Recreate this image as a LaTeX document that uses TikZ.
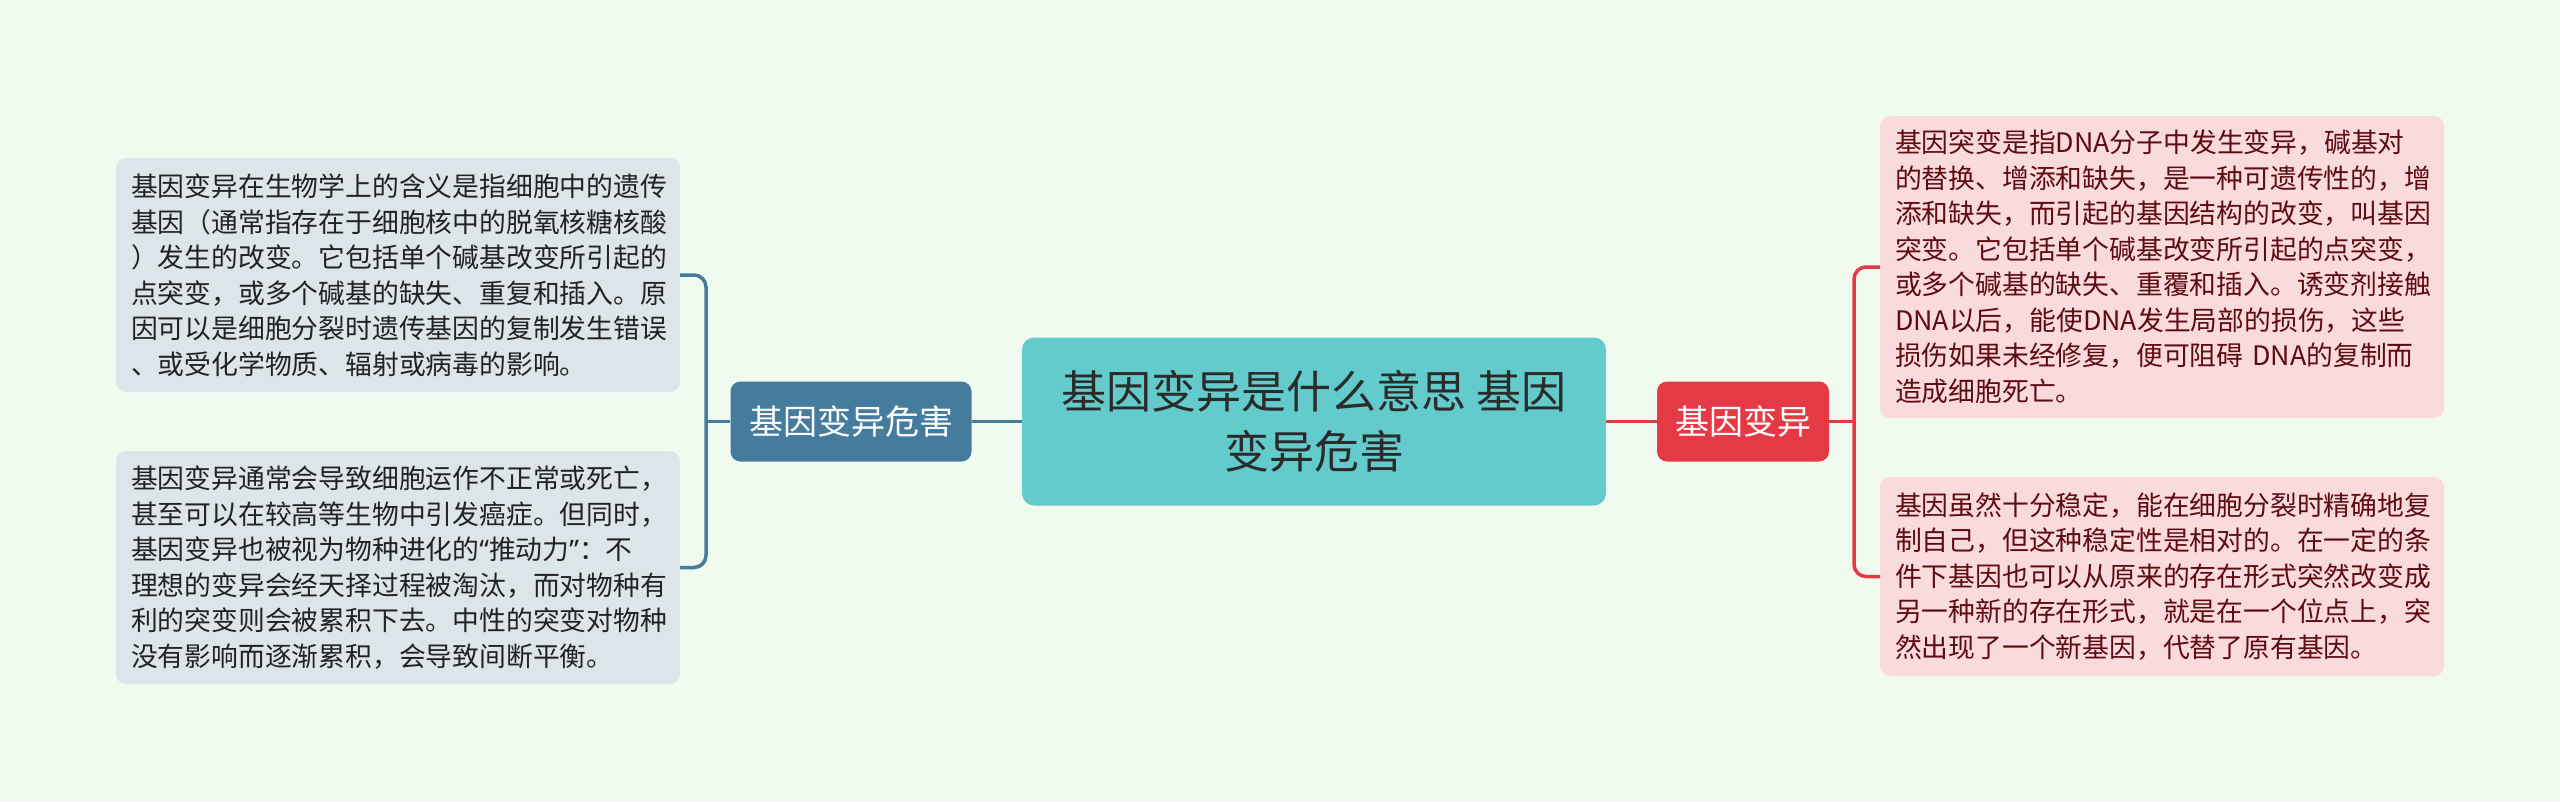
\documentclass[tikz,border=0pt]{standalone}
\usepackage{fontspec}
\setmainfont{Noto Sans CJK SC}
\newfontfamily\latinquote{Noto Sans}
\definecolor{bg}{HTML}{F1FAEE}
\definecolor{centerfill}{HTML}{63CBCB}
\definecolor{titletext}{HTML}{2B2B2B}
\definecolor{bluebranch}{HTML}{457B9D}
\definecolor{redbranch}{HTML}{E63946}
\definecolor{leafblue}{HTML}{DCE5EA}
\definecolor{leafpink}{HTML}{F9DADD}
\definecolor{leafbluetext}{HTML}{222222}
\definecolor{leafpinktext}{HTML}{5E0B12}
\begin{document}
\begin{tikzpicture}[x=1pt,y=-1pt,
  centerbox/.style={fill=centerfill, text=titletext, rounded corners=12pt,
    minimum width=584pt, minimum height=168pt, inner sep=0pt, align=center,
    font=\fontsize{45pt}{60pt}\selectfont},
  branchbox/.style={rounded corners=10pt, text=white, inner sep=0pt,
    minimum height=80pt, font=\fontsize{34pt}{40pt}\selectfont},
  leafbox/.style={rounded corners=10pt, text width=534pt, inner xsep=15pt,
    inner ysep=0pt, align=left, font=\fontsize{26.8pt}{35.5pt}\selectfont},
  leftleaf/.style={leafbox, fill=leafblue, text=leafbluetext},
  rightleaf/.style={leafbox, fill=leafpink, text=leafpinktext},
  bluelink/.style={draw=bluebranch, line width=3.5pt},
  redlink/.style={draw=redbranch, line width=3.5pt},
]
\useasboundingbox[fill=bg] (0,0) rectangle (2560,801);

\node[centerbox] (c) at (1314,421.5) {基因变异是什么意思 基因\\变异危害};

\node[branchbox, fill=bluebranch, minimum width=241pt] (lb) at (851,421.5) {基因变异危害};
\node[branchbox, fill=redbranch, minimum width=172pt] (rb) at (1743,421.5) {基因变异};

\node[leftleaf, minimum height=234pt] (l1) at (398,275) {基因变异在生物学上的含义是指细胞中的遗传\\基因（通常指存在于细胞核中的脱氧核糖核酸\\）发生的改变。它包括单个碱基改变所引起的\\点突变，或多个碱基的缺失、重复和插入。原\\因可以是细胞分裂时遗传基因的复制发生错误\\、或受化学物质、辐射或病毒的影响。};
\node[leftleaf, minimum height=233pt] (l2) at (398,567.5) {基因变异通常会导致细胞运作不正常或死亡，\\甚至可以在较高等生物中引发癌症。但同时，\\基因变异也被视为物种进化的{\latinquote “}推动力{\latinquote ”}：不\\理想的变异会经天择过程被淘汰，而对物种有\\利的突变则会被累积下去。中性的突变对物种\\没有影响而逐渐累积，会导致间断平衡。};

\node[rightleaf, minimum height=302pt] (r1) at (2162,267) {基因突变是指DNA分子中发生变异，碱基对\\的替换、增添和缺失，是一种可遗传性的，增\\添和缺失，而引起的基因结构的改变，叫基因\\突变。它包括单个碱基改变所引起的点突变，\\或多个碱基的缺失、重覆和插入。诱变剂接触\\DNA以后，能使DNA发生局部的损伤，这些\\损伤如果未经修复，便可阻碍 DNA的复制而\\造成细胞死亡。};
\node[rightleaf, minimum height=199pt] (r2) at (2162,576.5) {基因虽然十分稳定，能在细胞分裂时精确地复\\制自己，但这种稳定性是相对的。在一定的条\\件下基因也可以从原来的存在形式突然改变成\\另一种新的存在形式，就是在一个位点上，突\\然出现了一个新基因，代替了原有基因。};

\coordinate (lj) at (706,421.5);
\coordinate (rj) at (1854,421.5);

\draw[bluelink] (c.west) -- (lb.east);
\draw[bluelink] (lb.west) -- (lj);
\draw[bluelink, rounded corners=12pt] (l1.east) -| (lj) |- (l2.east);

\draw[redlink] (c.east) -- (rb.west);
\draw[redlink] (rb.east) -- (rj);
\draw[redlink, rounded corners=12pt] (r1.west) -| (rj) |- (r2.west);
\end{tikzpicture}
\end{document}
